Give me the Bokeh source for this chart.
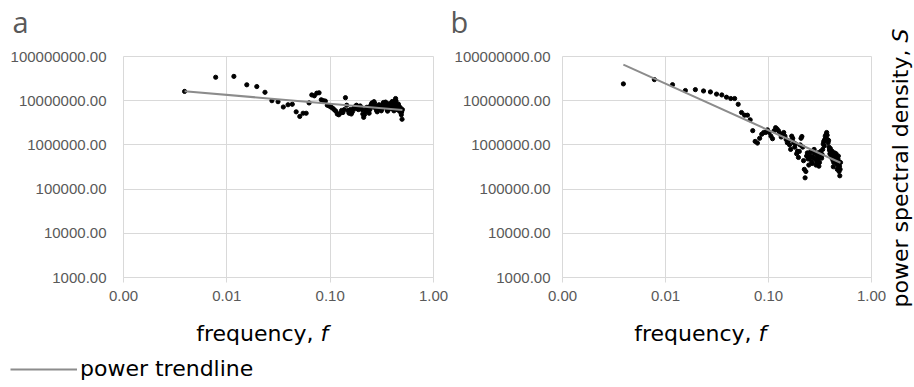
import numpy as np
from bokeh.plotting import figure
from bokeh.layouts import row, column
from bokeh.models import (FixedTicker, NumeralTickFormatter, Label, Legend,
                          LegendItem, Range1d)
from bokeh.embed import file_html
from bokeh.resources import INLINE

# ---------------- data ----------------
freq = [
    0.0039, 0.0078, 0.0117, 0.0156, 0.0195, 0.0234, 0.0273, 0.0313,
    0.0352, 0.0391, 0.0430, 0.0469, 0.0508, 0.0547, 0.0586, 0.0625,
    0.0664, 0.0703, 0.0742, 0.0781, 0.0820, 0.0859, 0.0898, 0.0938,
    0.0977, 0.1016, 0.1055, 0.1094, 0.1133, 0.1172, 0.1211, 0.1250,
    0.1289, 0.1328, 0.1367, 0.1406, 0.1445, 0.1484, 0.1523, 0.1563,
    0.1602, 0.1641, 0.1680, 0.1719, 0.1758, 0.1797, 0.1836, 0.1875,
    0.1914, 0.1953, 0.1992, 0.2031, 0.2070, 0.2109, 0.2148, 0.2188,
    0.2227, 0.2266, 0.2305, 0.2344, 0.2383, 0.2422, 0.2461, 0.2500,
    0.2539, 0.2578, 0.2617, 0.2656, 0.2695, 0.2734, 0.2773, 0.2813,
    0.2852, 0.2891, 0.2930, 0.2969, 0.3008, 0.3047, 0.3086, 0.3125,
    0.3164, 0.3203, 0.3242, 0.3281, 0.3320, 0.3359, 0.3398, 0.3438,
    0.3477, 0.3516, 0.3555, 0.3594, 0.3633, 0.3672, 0.3711, 0.3750,
    0.3789, 0.3828, 0.3867, 0.3906, 0.3945, 0.3984, 0.4023, 0.4063,
    0.4102, 0.4141, 0.4180, 0.4219, 0.4258, 0.4297, 0.4336, 0.4375,
    0.4414, 0.4453, 0.4492, 0.4531, 0.4570, 0.4609, 0.4648, 0.4688,
    0.4727, 0.4766, 0.4805, 0.4844, 0.4883, 0.4922, 0.4961, 0.5000,
]

psd_a = [
    1.62e7, 3.39e7, 3.55e7, 2.29e7, 2.09e7, 1.55e7, 1.00e7, 9.5e6,
    7.2e6, 8.1e6, 8.3e6, 5.6e6, 4.4e6, 5.2e6, 5.2e6, 8.9e6,
    1.35e7, 1.29e7, 1.48e7, 1.51e7, 1.05e7, 1.00e7, 9.8e6, 7.9e6,
    7.6e6, 7.2e6, 6.8e6, 6.3e6, 5.8e6, 5.0e6, 4.8e6, 5.2e6,
    6.0e6, 5.4e6, 6.3e6, 1.17e7, 7.9e6, 6.0e6, 5.2e6, 6.3e6,
    5.0e6, 5.6e6, 6.6e6, 7.2e6, 6.6e6, 7.9e6, 7.1e6, 6.3e6,
    6.6e6, 7.6e6, 6.9e6, 6.3e6, 5.0e6, 4.2e6, 4.8e6, 5.6e6,
    6.3e6, 7.1e6, 6.3e6, 5.8e6, 5.2e6, 6.3e6, 7.6e6, 8.3e6,
    8.9e6, 7.9e6, 7.2e6, 9.5e6, 8.7e6, 7.6e6, 6.6e6, 6.0e6,
    5.6e6, 6.3e6, 7.2e6, 8.1e6, 7.4e6, 6.6e6, 6.2e6, 5.9e6,
    6.5e6, 7.4e6, 8.5e6, 9.1e6, 8.3e6, 7.6e6, 8.8e6, 9.3e6,
    8.1e6, 6.9e6, 6.2e6, 5.8e6, 6.4e6, 7.2e6, 7.9e6, 8.6e6,
    8.0e6, 7.1e6, 6.6e6, 7.8e6, 8.7e6, 9.6e6, 8.9e6, 7.6e6,
    6.5e6, 5.9e6, 6.8e6, 8.6e6, 1.02e7, 1.12e7, 9.9e6, 8.4e6,
    7.2e6, 6.3e6, 6.9e6, 7.8e6, 8.4e6, 7.5e6, 6.4e6, 5.8e6,
    6.1e6, 7.0e6, 6.2e6, 5.4e6, 4.8e6, 5.6e6, 3.8e6, 6.3e6,
]

psd_b = [
    2.4e7, 3.0e7, 2.3e7, 1.7e7, 1.78e7, 1.66e7, 1.58e7, 1.41e7,
    1.35e7, 1.2e7, 1.12e7, 1.12e7, 8.3e6, 5.4e6, 4.7e6, 4.7e6,
    3.7e6, 2.1e6, 1.2e6, 1.1e6, 1.41e6, 1.74e6, 1.91e6, 1.91e6,
    2.19e6, 1.91e6, 1.58e6, 1.38e6, 2.09e6, 2.45e6, 2.29e6, 2.09e6,
    1.82e6, 1.51e6, 1.66e6, 1.91e6, 1.58e6, 1.32e6, 1.12e6, 1.23e6,
    1.0e6, 7.9e5, 1.58e6, 1.41e6, 1.12e6, 8.9e5, 1.05e6, 6.3e5,
    7.2e5, 5.2e5, 7.1e5, 1.0e6, 1.41e6, 1.55e6, 8.9e5, 4.4e5,
    2.8e5, 1.8e5, 2.5e5, 5.6e5, 6.6e5, 4.8e5, 3.5e5, 5.0e5,
    6.8e5, 5.6e5, 4.2e5, 3.8e5, 5.2e5, 7.1e5, 7.9e5, 6.3e5,
    4.8e5, 3.5e5, 4.2e5, 5.6e5, 6.6e5, 4.8e5, 3.3e5, 4.0e5,
    5.6e5, 7.1e5, 6.3e5, 5.0e5, 6.0e5, 7.9e5, 1.05e6, 1.2e6,
    9.5e5, 1.32e6, 1.58e6, 1.41e6, 1.74e6, 1.91e6, 1.66e6, 1.32e6,
    1.12e6, 1.26e6, 8.9e5, 7.6e5, 6.3e5, 8.3e5, 7.1e5, 5.2e5,
    6.0e5, 7.2e5, 6.3e5, 4.5e5, 3.2e5, 4.0e5, 5.2e5, 6.6e5,
    5.6e5, 4.2e5, 5.0e5, 6.3e5, 5.5e5, 3.8e5, 2.8e5, 3.5e5,
    4.8e5, 5.6e5, 4.2e5, 2.5e5, 3.3e5, 2.0e5, 2.8e5, 4.0e5,
]

x_ticks = [0.001, 0.01, 0.1, 1.0]
y_ticks = [1e3, 1e4, 1e5, 1e6, 1e7, 1e8]
panel_names = ["a", "b"]
x_title = "frequency,"
x_title_var = "f"
y_title = "power spectral density,"
y_title_var = "S"
legend_text = "power trendline"

# ---------------- style ----------------
GRID = "#d9d9d9"
TICK_TXT = "#595959"
TREND = "#8c8c8c"
TFONT = "DejaVu Sans"
TSIZE = "22px"


def power_fit(f, s):
    f = np.asarray(f)
    s = np.asarray(s)
    b, loga = np.polyfit(np.log10(f), np.log10(s), 1)
    ends = np.array([f.min(), f.max()])
    return ends, (10 ** loga) * ends ** b


def blank(width, height):
    p = figure(width=width, height=height, x_range=Range1d(0, 1),
               y_range=Range1d(0, 1), x_axis_location=None,
               y_axis_location=None, output_backend="svg",
               toolbar_location=None, min_border=0)
    p.grid.visible = False
    p.outline_line_color = None
    return p


def make_panel(s, width, left, right, standoff):
    p = figure(width=width, height=261, x_axis_type="log", y_axis_type="log",
               x_range=Range1d(0.001, 1.0), y_range=Range1d(1e3, 1e8),
               output_backend="svg", toolbar_location=None,
               min_border_left=left, min_border_right=right,
               min_border_top=8, min_border_bottom=32)
    p.outline_line_color = GRID
    p.xaxis.ticker = FixedTicker(ticks=x_ticks)
    p.yaxis.ticker = FixedTicker(ticks=y_ticks)
    p.xaxis.formatter = NumeralTickFormatter(format="0.00")
    p.yaxis.formatter = NumeralTickFormatter(format="0.00")
    for ax in (p.xaxis, p.yaxis):
        ax.major_label_text_font = "Liberation Sans"
        ax.major_label_text_font_size = "15px"
        ax.major_label_text_color = TICK_TXT
        ax.minor_tick_line_color = None
    p.xaxis.axis_line_color = GRID
    p.xaxis.major_tick_line_color = GRID
    p.xaxis.major_tick_out = 5
    p.xaxis.major_tick_in = 0
    p.xaxis.major_label_standoff = 8
    p.yaxis.axis_line_color = None
    p.yaxis.major_tick_line_color = None
    p.yaxis.major_tick_out = 0
    p.yaxis.major_tick_in = 0
    p.yaxis.major_label_standoff = standoff
    p.grid.grid_line_color = GRID
    p.grid.minor_grid_line_color = None

    p.scatter(freq, s, size=4.2, color="black")
    tx, ty = power_fit(freq, s)
    p.line(tx, ty, line_color=TREND, line_width=2)
    return p


pa = make_panel(psd_a, 451, 123, 18, 17)
pb = make_panel(psd_b, 435, 110, 15, 12)

# header with panel letters
header = blank(886, 48)
for name, x in zip(panel_names, [12, 450]):
    header.add_layout(Label(x=x, y=27, x_units="screen", y_units="screen",
                            text=name, text_font="Open Sans",
                            text_font_size="29px", text_color=TICK_TXT,
                            text_baseline="middle"))

# footer with x titles and legend
footer = blank(886, 76)
for xe in [313, 751]:
    footer.add_layout(Label(x=xe, y=52, x_units="screen", y_units="screen",
                            text=x_title, text_font=TFONT,
                            text_font_size=TSIZE, text_color="black",
                            text_align="right", text_baseline="middle"))
    footer.add_layout(Label(x=xe + 7, y=52, x_units="screen",
                            y_units="screen", text=x_title_var,
                            text_font=TFONT, text_font_size=TSIZE,
                            text_font_style="italic", text_color="black",
                            text_align="left", text_baseline="middle"))
# legend entry for the trendline (its data lie outside this strip's view)
lx, ly = power_fit(freq, psd_a)
legend_line = footer.line(lx, ly, line_color=TREND, line_width=2)
legend = Legend(items=[LegendItem(label=legend_text,
                                  renderers=[legend_line])],
                location=(10, 4), glyph_width=67, glyph_height=20,
                label_height=20, label_standoff=3, padding=0, margin=0,
                spacing=0, border_line_color=None, background_fill_alpha=0,
                label_text_font=TFONT, label_text_font_size=TSIZE,
                label_text_color="black")
footer.add_layout(legend)

# right strip with rotated y title
right = blank(27, 385)
right.add_layout(Label(x=14, y=336, x_units="screen", y_units="screen",
                       text=y_title, angle=np.pi / 2, text_font=TFONT,
                       text_font_size=TSIZE, text_color="black",
                       text_align="right", text_baseline="middle"))
right.add_layout(Label(x=14, y=343, x_units="screen", y_units="screen",
                       text=y_title_var, angle=np.pi / 2, text_font=TFONT,
                       text_font_size=TSIZE, text_font_style="italic",
                       text_color="black", text_align="left",
                       text_baseline="middle"))

layout = row(column(header, row(pa, pb), footer), right)
open("out.html", "w").write(file_html(layout, INLINE))
